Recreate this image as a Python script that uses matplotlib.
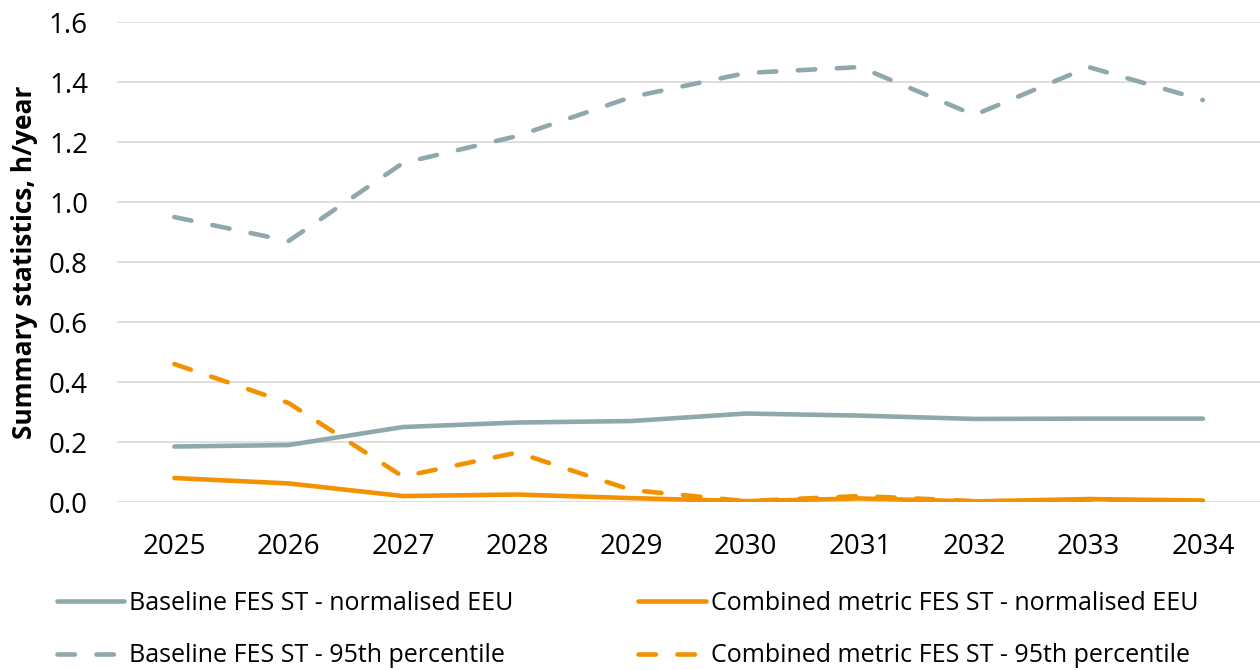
import matplotlib
matplotlib.use("Agg")
import matplotlib.pyplot as plt

years = ["2025", "2026", "2027", "2028", "2029", "2030", "2031", "2032", "2033", "2034"]
baseline_eeu = [0.185, 0.19, 0.25, 0.265, 0.27, 0.295, 0.288, 0.277, 0.278, 0.278]
baseline_p95 = [0.95, 0.87, 1.13, 1.22, 1.35, 1.43, 1.45, 1.29, 1.45, 1.34]
combined_eeu = [0.08, 0.062, 0.02, 0.025, 0.013, 0.003, 0.012, 0.002, 0.01, 0.005]
combined_p95 = [0.46, 0.33, 0.085, 0.165, 0.04, 0.003, 0.02, 0.003, 0.003, 0.002]
y_ticks = [0.0, 0.2, 0.4, 0.6, 0.8, 1.0, 1.2, 1.4, 1.6]

GREY = "#8FA8AC"
ORANGE = "#F39200"
GRID = "#D9D9D9"

plt.rcParams["font.family"] = ["Open Sans", "DejaVu Sans"]

fig = plt.figure(figsize=(12.6, 6.7), dpi=100)
ax = fig.add_axes([0.093, 0.2507, 0.907, 0.7164])

x = list(range(len(years)))
lw = 3.3
dash = (3.8, 4.7)

l1, = ax.plot(x, baseline_eeu, color=GREY, lw=lw, solid_capstyle="round",
              solid_joinstyle="round", label="Baseline FES ST - normalised EEU")
l2, = ax.plot(x, baseline_p95, color=GREY, lw=lw, dashes=dash, dash_capstyle="round",
              dash_joinstyle="round", label="Baseline FES ST - 95th percentile")
l3, = ax.plot(x, combined_eeu, color=ORANGE, lw=lw, solid_capstyle="round",
              solid_joinstyle="round", label="Combined metric FES ST - normalised EEU")
l4, = ax.plot(x, combined_p95, color=ORANGE, lw=lw, dashes=dash, dash_capstyle="round",
              dash_joinstyle="round", label="Combined metric FES ST - 95th percentile")

ax.set_xlim(-0.5, len(years) - 0.5)
ax.set_ylim(0, 1.6)
ax.set_yticks(y_ticks)
ax.set_yticklabels([f"{v:.1f}" for v in y_ticks])
ax.set_xticks(x)
ax.set_xticklabels(years)
ax.tick_params(axis="both", length=0, labelsize=20, colors="black")
ax.tick_params(axis="x", pad=22)
ax.tick_params(axis="y", pad=21)
ax.yaxis.grid(True, color=GRID, lw=1.2)
ax.set_axisbelow(True)
for s in ax.spines.values():
    s.set_visible(False)

ax.set_ylabel("Summary statistics, h/year", fontsize=19, fontweight="bold")
ax.yaxis.set_label_coords(-0.069, 0.5)

fig.legend(handles=[l1, l2, l3, l4], ncol=2, loc="center left",
           bbox_to_anchor=(0.037, 0.0604), frameon=False, fontsize=18,
           handlelength=2.7, handletextpad=0.2, columnspacing=5.0,
           labelspacing=1.1, borderaxespad=0)

fig.savefig("out.png", dpi=100)
